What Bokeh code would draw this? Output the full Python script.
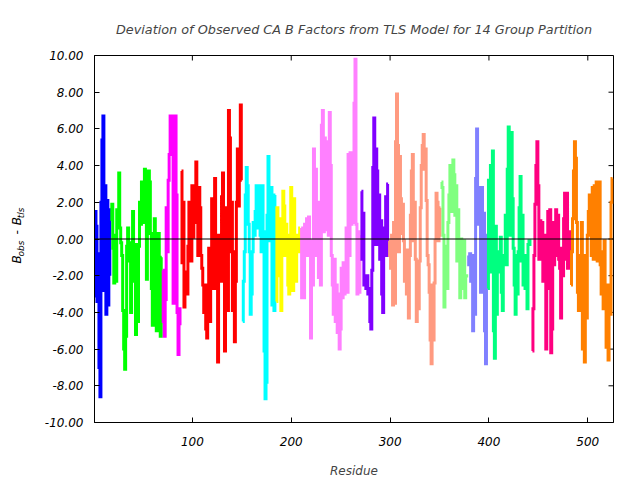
from bokeh.plotting import figure
from bokeh.layouts import row
from bokeh.models import Range1d, FixedTicker, PrintfTickFormatter, Span
from bokeh.core.properties import value
from bokeh.embed import file_html
from bokeh.resources import INLINE

# ---- data: deviation B_obs - B_tls per residue, one list per TLS group ----
blue = [-3.1, 1.5, 0.7, -3.4, -0.8, -7.0, -8.6, 2.0, 5.4, 6.7, -2.8, 2.9, -4.1, 2.1, -3.6, 1.6, -2.0]
green = [1.0, 1.9, -0.5, -2.4, 0.2, -2.3, 1.6, 1.4, 3.6, 0.6, -0.2, -0.9, -3.9, -6.0, -7.1, -5.3,
         -0.4, 0.6, -0.2, -1.2, -4.0, -0.5, 1.5, -0.9, -2.3, -5.2, -0.3, -4.5, -0.4, 2.0, 0.8, 3.1,
         1.7, 0.9, 3.8, 2.7, -2.2, 0.9, 3.7, 3.1, 0.3, -2.7, -4.7, -0.6, 1.1, -4.2, -5.0, -2.5,
         0.3, -4.8, -5.3, -1.0]
magenta = [-1.7, -4.5, -5.3, -3.3, 1.7, -0.7, 3.2, 4.6, 6.7, 5.2, 6.7, -3.5, 4.3, 6.7, 2.4, -4.0,
           -6.3, -3.8, -4.7]
red = [3.7, -1.3, 2.0, -3.7, -2.6, -1.8, -3.0, -0.4, 2.0, 1.3, -1.2, 2.9, 0.1, 2.5, 0.9, 4.2,
       1.0, -0.9, 2.8,
       1.7, -0.9, -1.6, -2.5, -4.0, -2.5, -4.9, -5.4, -4.5, -0.5, -4.5, -0.7, 2.2, -2.7, -1.6,
       3.3, 0.2, -2.7, -6.7, 0.2, -1.2, -2.3, 2.3, 3.6, 0.1, -6.1, -1.6, 1.7, -3.9, 7.0, 5.5,
       -0.7, 2.0, -3.9, -0.7, -5.6, -2.3, 2.0, 4.9, 1.8, 3.3, 7.3, 3.2]
cyan = [-4.5, -2.3, -0.7, 2.4, 3.9, 2.9, 0.8, -0.7, -4.1, -3.0, -0.7, 0.9, 0.2, 1.5, 2.9, 0.6,
        1.7, 2.9, 0.2, -0.7, 2.9, 0.4, -6.1, -8.7, -7.8, 1.3, 4.5, 2.8, -0.1, 2.8, -3.6, 2.4,
        -3.9, 2.4]
yellow = [-3.4, 1.7, 0.0, 1.1, -2.0, -3.9, -0.3, 2.6, 1.8, -0.9, 0.8, -0.5, -2.5, -3.0, 0.2,
          2.8, -0.7, -2.8, 2.2, -1.2, -2.3, -0.7, 0.2, -0.7, 0.6]
violet = [0.6, -3.2, -0.7,
          -3.2, 0.8, -0.9, 1.1, -0.1, 1.2, -0.9, -5.4, -0.1, -2.5, 4.9, 0.6, 3.8, -0.9, 2.0,
          -2.1, -0.1, -2.5, 6.2, 7.0, 0.4, 5.5, 0.5, 5.3, 0.6, 0.2, 6.9, 4.0, -0.9, -2.5, -4.1,
          -1.1, -4.5, -2.5, -5.1, -3.0, -6.0, -4.9, -1.6, -3.2, -1.3, -3.0, -2.0, 0.6, -2.9,
          4.6, -0.9, 4.7, 0.8, 4.7, 0.9, 7.4, 9.8, 0.8, -3.0, 0.4, -2.9, 0.2]
purple = [2.6, -1.1, 1.4, -2.5, -2.0, -2.7, -2.0, -3.0, -2.7, -4.5, -4.9, -1.7, 3.9, 6.6, -0.3,
          4.9, 3.7, -0.3, 2.4, -1.1, 1.0, -3.0, -4.0, 0.6, -0.7, 2.3, -0.9, 3.0]
salmon = [-0.1, -0.9, -1.6, 0.2, -3.6, 0.9, -3.5, 5.3, 7.9, 5.1, -0.7, 4.5, 2.2, 0.3, 1.9, -0.1,
          -2.3, -0.9,
          -3.0, -0.6, -4.3, -0.9, 1.3, 3.7, 4.6, -0.1, 2.0, -1.1, -4.5, -1.6, -3.8, -1.2, 1.7,
          4.0, 5.1, 5.7, 3.8, 4.9, 2.1, -0.9, -1.4, -2.9, -5.5, -6.8, -2.5, -5.5, -2.4, -0.1,
          2.5, 2.0, -0.1, 0.2, 1.7]
lightgreen = [3.1, 2.8, 0.2, -3.7, -0.4, -0.7, -2.7, 0.9, 2.4, 4.0, 3.7, 1.5, 4.3, 3.5, 1.3, 2.9,
              -1.2, 1.6, -0.9, -3.2, 0.0, -2.7, -2.3, -0.1, -3.2, -2.0, -2.1]
lightblue = [-0.9, -1.4, -0.8, -2.3, -0.9, -5.0, -1.2, -4.1, 3.3, 6.0, 0.8, 2.8, 1.5, -2.9, 2.8,
             -2.9, 1.4, -5.0, -6.8, 0.2]
springgreen = [-2.7, 3.2, -1.8, 4.0, -0.5, 4.8, -5.0, -6.5, 0.7, -4.1, -1.8, -0.7, -1.6, 0.1,
               -2.9, -3.9, -0.9, -1.1, 1.3, -1.4, 3.8, 6.1, 0.9,
               0.2, 5.8, 2.2, -0.5, -2.5, -4.1, -0.9, -3.0, -0.7, 1.7, 3.4, -1.2, 1.3, -2.5,
               -1.6, -2.7, -0.9, -3.8, -0.3, -0.1, -0.3, -0.3]
deeppink = [-6.1, -3.8, -0.9, 1.9, 4.0, 5.3, 2.9, -1.1, 1.0, -1.1, 0.9, -2.3, 0.2, -0.9, -6.0,
            -0.1, 1.5, -2.7, 1.6, -6.2, -4.9, 0.9, -1.4, 0.1, 1.6, -0.9, 1.3, -1.1, -1.6, -4.3,
            -0.5, -2.0, 1.1, 2.5, -1.1, 2.5, -1.6, 0.4, -0.7]
orange = [-2.5, -0.7, 1.1, 3.7, 5.3, 4.4, 0.9, -2.9, -3.9, -0.9, -2.7, 0.9, -6.0, -0.9, -6.7,
          -2.3, -4.3, 0.2, 1.5, 2.4, 0.6, -0.9, 2.8, -1.1, 2.9, 0.9, 3.1, -1.2, 0.6, 3.1, -1.4,
          -3.0, -0.7, -3.8, -0.1, -2.7, -5.9, -2.5, -6.6, -2.7, -4.1, 2.0, 3.3]

groups = [blue, green, magenta, red, cyan, yellow, violet, purple, salmon, lightgreen,
          lightblue, springgreen, deeppink, orange]
colors = ["#0000ff", "#00ff00", "#ff00ff", "#ff0000", "#00ffff", "#ffff00", "#ff80ff",
          "#8000ff", "#ff9a80", "#80ff80", "#8080ff", "#00ff80", "#ff0080", "#ff8000"]
first_residue = 1
x_ticks = [100, 200, 300, 400, 500]
y_ticks = [-10, -8, -6, -4, -2, 0, 2, 4, 6, 8, 10]
title_text = "Deviation of Observed CA B Factors from TLS Model for 14 Group Partition"
ylabel_parts = ["B", "obs", "-", "B", "tls"]

FONT = "DejaVu Sans"
W, H = 640, 480
LAB_W = 30

# ---------- narrow strip holding the rotated y-axis label ----------
lab = figure(width=LAB_W, height=H, output_backend="svg", toolbar_location=None,
             x_range=Range1d(0, LAB_W), y_range=Range1d(0, H),
             x_axis_type=None, y_axis_type=None,
             min_border_left=0, min_border_right=0, min_border_top=0, min_border_bottom=0)
lab.grid.visible = False
lab.outline_line_color = None
lab.background_fill_color = "white"
lab.border_fill_color = "white"
# (vertical pixel where the piece starts, baseline x pixel, font size)
placement = [(272, 16, "12px"), (263, 20, "9px"), (234, 16, "12px"),
             (222, 16, "12px"), (213, 20, "9px")]
for txt, (py, px, fs) in zip(ylabel_parts, placement):
    lab.text(x=[px], y=[H - py], text=[txt], angle=1.5707963,
             text_font=value(FONT), text_font_style="italic", text_font_size=fs,
             text_color="black", text_align="left", text_baseline="alphabetic")

# ---------- main plot ----------
n_total = sum(len(g) for g in groups)
x_lo, x_hi = first_residue, first_residue + n_total
y_lo, y_hi = -10, 10
p = figure(width=W - LAB_W, height=H, output_backend="svg", toolbar_location=None,
           x_range=Range1d(x_lo, x_hi), y_range=Range1d(y_lo, y_hi),
           min_border_left=94 - LAB_W, min_border_right=27, min_border_top=55,
           min_border_bottom=58, title=title_text)
p.grid.visible = False
p.background_fill_color = "white"
p.border_fill_color = "white"
p.outline_line_color = "black"
p.outline_line_width = 1

p.title.align = "center"
p.title.text_font = FONT
p.title.text_font_style = "italic"
p.title.text_font_size = "12.8px"
p.title.standoff = 38

def style_axis(ax):
    ax.axis_line_color = "black"
    ax.major_tick_in = 5
    ax.major_tick_out = 0
    ax.minor_tick_line_color = None
    ax.major_tick_line_color = "black"
    ax.major_label_text_font = FONT
    ax.major_label_text_font_style = "italic"
    ax.major_label_text_font_size = "12px"
    ax.major_label_text_color = "black"

xa = p.xaxis[0]
xa.ticker = FixedTicker(ticks=x_ticks)
style_axis(xa)
xa.major_label_standoff = 14
xa.axis_label = "Residue"
xa.axis_label_text_font = FONT
xa.axis_label_text_font_style = "italic"
xa.axis_label_text_font_size = "12px"
xa.axis_label_standoff = 15

ya = p.yaxis[0]
ya.ticker = FixedTicker(ticks=y_ticks)
ya.formatter = PrintfTickFormatter(format="%.2f")
style_axis(ya)
ya.major_label_standoff = 11

# mirrored inward ticks on the top and right edges (gnuplot style)
tick_dy = (y_hi - y_lo) * 5 / 367.0
tick_dx = (x_hi - x_lo) * 5 / 519.0
p.segment(x0=x_ticks, y0=[y_hi] * len(x_ticks), x1=x_ticks, y1=[y_hi - tick_dy] * len(x_ticks),
          line_color="black", line_width=1)
p.segment(x0=[x_hi] * len(y_ticks), y0=y_ticks, x1=[x_hi - tick_dx] * len(y_ticks), y1=y_ticks,
          line_color="black", line_width=1)

start = first_residue
for vals, col in zip(groups, colors):
    xs = list(range(start, start + len(vals)))
    p.step(xs, vals, line_color=col, line_width=3, mode="center", line_join="miter")
    start += len(vals)

# zero reference line drawn over the data
p.add_layout(Span(location=0, dimension="width", line_color="black", line_width=1, level="overlay"))

layout = row(lab, p, spacing=0)
open("out.html", "w").write(file_html(layout, INLINE))
